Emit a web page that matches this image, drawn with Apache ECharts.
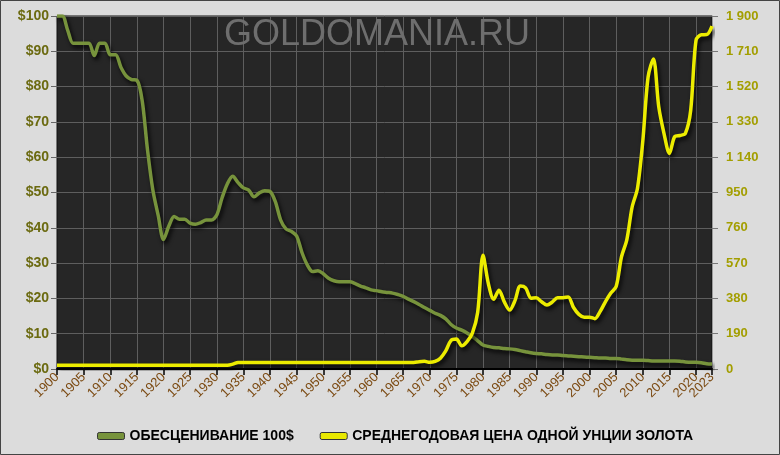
<!DOCTYPE html>
<html>
<head>
<meta charset="utf-8">
<script src="https://cdn.jsdelivr.net/npm/echarts@6/dist/echarts.min.js"></script>
<style>
html,body{margin:0;padding:0;background:#dcdcdc;}
#chart{width:780px;height:455px;}
</style>
</head>
<body>
<div id="chart"></div>
<script>
const years = [1900,1901,1902,1903,1904,1905,1906,1907,1908,1909,1910,1911,1912,1913,1914,1915,1916,1917,1918,1919,
1920,1921,1922,1923,1924,1925,1926,1927,1928,1929,1930,1931,1932,1933,1934,1935,1936,1937,1938,1939,
1940,1941,1942,1943,1944,1945,1946,1947,1948,1949,1950,1951,1952,1953,1954,1955,1956,1957,1958,1959,
1960,1961,1962,1963,1964,1965,1966,1967,1968,1969,1970,1971,1972,1973,1974,1975,1976,1977,1978,1979,
1980,1981,1982,1983,1984,1985,1986,1987,1988,1989,1990,1991,1992,1993,1994,1995,1996,1997,1998,1999,
2000,2001,2002,2003,2004,2005,2006,2007,2008,2009,2010,2011,2012,2013,2014,2015,2016,2017,2018,2019,
2020,2021,2022,2023];

// Purchasing power of $100 (1900 dollars)
const devaluation = [100,100,96,92.3,92.3,92.3,92.3,88.8,92.3,92.3,89,89,85.5,83,82,81.8,76,62,50.7,43.5,
36.7,40.5,43.2,42.4,42.4,41.3,41,41.5,42.2,42.2,43.6,48.5,52.5,54.6,52.8,51.3,50.7,48.8,49.9,50.5,
50.3,47.4,42.2,39.7,39,37.7,33,29.5,27.6,27.8,27,25.7,25,24.7,24.7,24.7,24.2,23.5,23,22.4,
22.2,21.9,21.7,21.5,21.1,20.6,19.8,19.1,18.3,17.4,16.6,15.8,15.2,14.2,12.6,11.6,11,10.2,9.2,8,
6.8,6.4,6.1,6,5.8,5.7,5.5,5.2,4.9,4.6,4.4,4.3,4.1,4,4,3.8,3.7,3.6,3.5,3.4,
3.3,3.2,3.1,3.1,3,3,2.8,2.6,2.5,2.5,2.5,2.4,2.3,2.3,2.3,2.3,2.3,2.2,2,1.9,
1.9,1.8,1.5,1.4];

// Average annual price of one ounce of gold, USD
const goldPrice = [20.67,20.67,20.67,20.67,20.67,20.67,20.67,20.67,20.67,20.67,20.67,20.67,20.67,20.67,20.67,20.67,20.67,20.67,20.67,20.67,
20.67,20.67,20.67,20.67,20.67,20.67,20.67,20.67,20.67,20.67,20.67,20.67,20.67,26,34.7,35,35,35,35,35,
35,35,35,35,35,35,35,35,35,35,35,35,35,35,35,35,35,35,35,35,
35,35,35,35,35,35,35,35,39.3,41.3,36,40.8,58.2,97.3,154,161,125,148,193,306,
612,460,376,424,361,317,368,447,437,381,383,362,344,360,384,384,388,331,294,279,
279,271,310,363,409,444,603,695,872,972,1225,1572,1669,1411,1266,1160,1251,1257,1268,1393,
1770,1799,1800,1846];

// x-axis tick labels
const xTickYears = [1900,1905,1910,1915,1920,1925,1930,1935,1940,1945,1950,1955,1960,1965,1970,1975,1980,1985,1990,1995,2000,2005,2010,2015,2020,2023];
// vertical grid lines
const xGridYears = [1905,1910,1915,1920,1925,1930,1935,1940,1945,1950,1955,1960,1965,1970,1975,1980,1985,1990,1995,2000,2005,2010,2015,2020];

const seriesNames = ['ОБЕСЦЕНИВАНИЕ 100$', 'СРЕДНЕГОДОВАЯ ЦЕНА ОДНОЙ УНЦИИ ЗОЛОТА'];
const watermark = 'GOLDOMANIA.RU';

const chart = echarts.init(document.getElementById('chart'), null, {renderer: 'canvas'});
const shadow = {shadowColor: 'rgba(0,0,0,0.85)', shadowBlur: 4, shadowOffsetX: 2, shadowOffsetY: 3};
const isTick = (i, v) => xTickYears.indexOf(Number(v)) >= 0;
const isGrid = (i, v) => xGridYears.indexOf(Number(v)) >= 0;

chart.setOption({
  animation: false,
  backgroundColor: '#dcdcdc',
  title: {
    text: watermark,
    left: 219, top: 12,
    textStyle: {color: '#6e6e6e', fontSize: 36, fontWeight: 'normal', fontFamily: 'Liberation Sans'}
  },
  legend: {
    top: 424, left: 92,
    itemWidth: 27, itemHeight: 7, itemGap: 26,
    icon: 'roundRect',
    textStyle: {color: '#000', fontWeight: 'bold', fontSize: 14, fontFamily: 'Liberation Sans'},
    data: [
      {name: seriesNames[0], itemStyle: {color: '#77933c', borderColor: '#333', borderWidth: 1}},
      {name: seriesNames[1], itemStyle: {color: '#e8e800', borderColor: '#333', borderWidth: 1}}
    ]
  },
  grid: {
    left: 57, right: 68, top: 16, bottom: 86,
    show: true, backgroundColor: '#262626', borderColor: '#111', borderWidth: 1
  },
  xAxis: {
    type: 'category', data: years, boundaryGap: false,
    axisLine: {show: true, lineStyle: {color: '#000', width: 2}},
    axisTick: {show: true, length: 6, interval: isTick, lineStyle: {color: '#000', width: 1.5}},
    axisLabel: {rotate: 45, color: '#7b4a12', fontSize: 13, fontFamily: 'Liberation Sans', margin: 6,
      interval: 0, formatter: v => (xTickYears.indexOf(Number(v)) >= 0 ? String(v) : '')},
    splitLine: {show: true, interval: isGrid, lineStyle: {color: '#5e5e5e', width: 1}}
  },
  yAxis: [
    {
      type: 'value', min: 0, max: 100, interval: 10, position: 'left',
      axisLine: {show: false},
      axisTick: {show: true, length: 6, lineStyle: {color: '#666'}},
      axisLabel: {color: '#6b6a10', fontWeight: 'bold', fontSize: 14, fontFamily: 'Liberation Sans', margin: 8,
        formatter: v => '$' + v},
      splitLine: {show: true, lineStyle: {color: '#5e5e5e', width: 1}}
    },
    {
      type: 'value', min: 0, max: 1900, interval: 190, position: 'right',
      axisLine: {show: true, lineStyle: {color: '#9a9a9a', width: 1}},
      axisTick: {show: true, length: 6, lineStyle: {color: '#777'}},
      axisLabel: {color: '#a39e00', fontWeight: 'bold', fontSize: 13, fontFamily: 'Liberation Sans', margin: 14,
        formatter: v => v >= 1000 ? Math.floor(v / 1000) + ' ' + String(v % 1000).padStart(3, '0') : String(v)},
      splitLine: {show: false}
    }
  ],
  series: [
    {
      name: seriesNames[0], type: 'line', yAxisIndex: 0, data: devaluation,
      smooth: 0.3, showSymbol: false,
      lineStyle: Object.assign({color: '#77933c', width: 3.5}, shadow),
      itemStyle: {color: '#77933c'}
    },
    {
      name: seriesNames[1], type: 'line', yAxisIndex: 1, data: goldPrice,
      smooth: 0.3, showSymbol: false,
      lineStyle: Object.assign({color: '#ecec00', width: 3.5}, shadow),
      itemStyle: {color: '#ecec00'}
    }
  ],
  graphic: [
    {type: 'rect', shape: {x: 0.5, y: 0.5, width: 779, height: 454}, style: {fill: null, stroke: '#444', lineWidth: 1}, silent: true}
  ]
});
</script>
</body>
</html>
